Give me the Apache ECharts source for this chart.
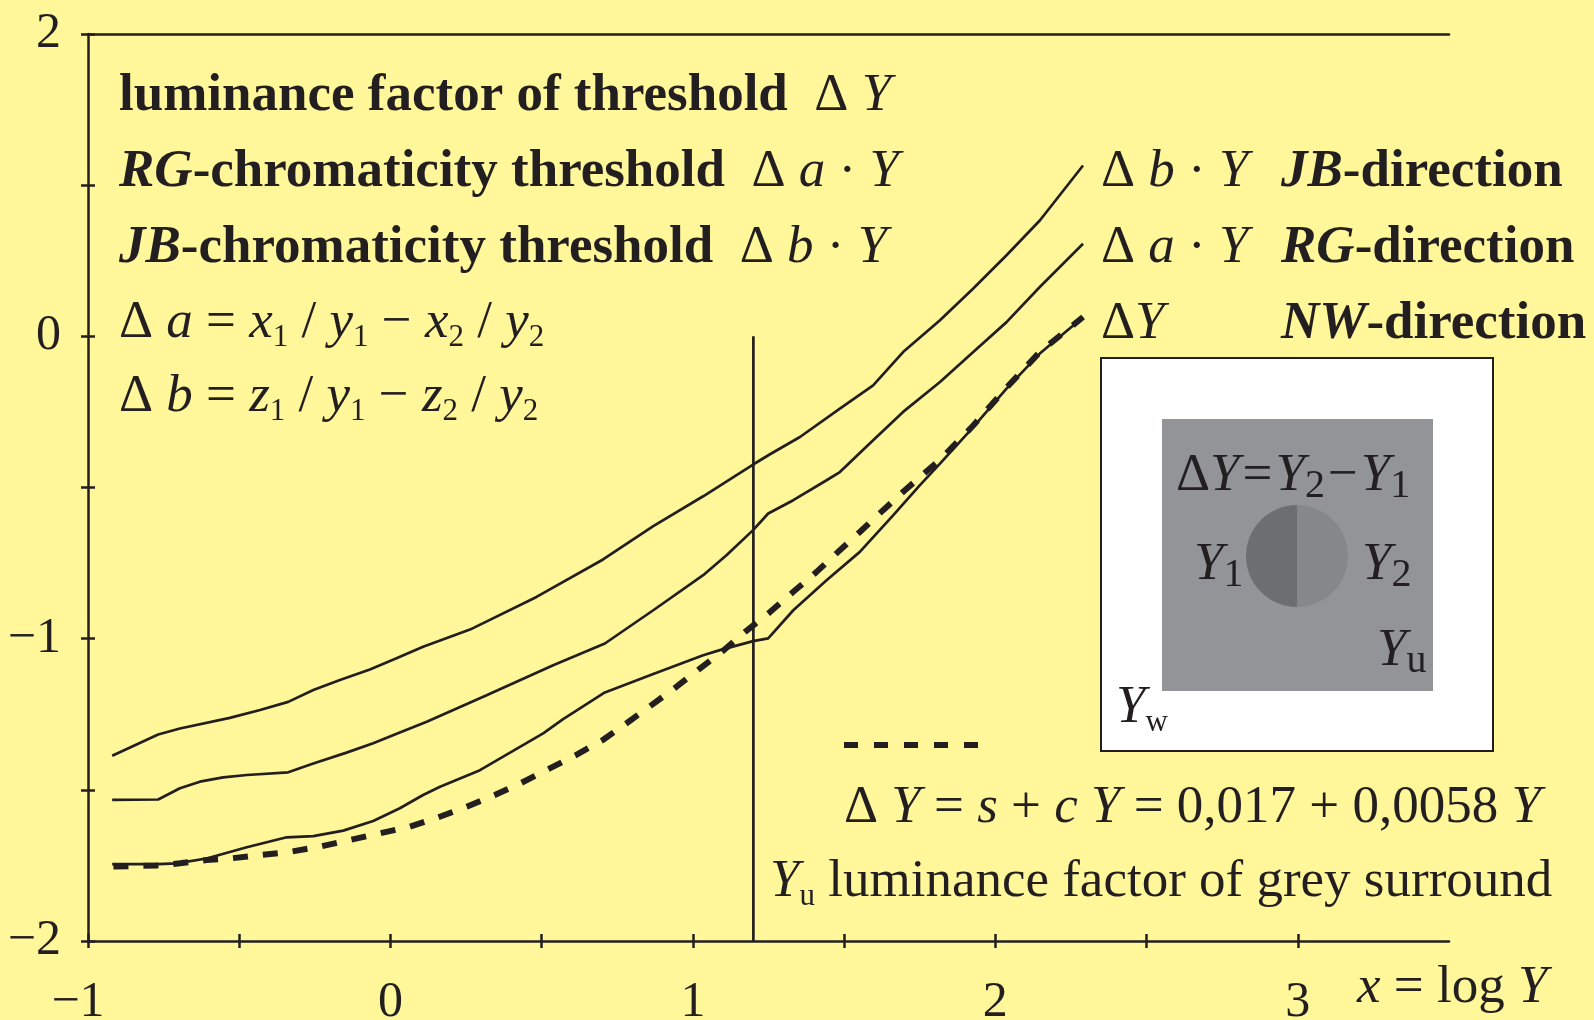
<!DOCTYPE html>
<html>
<head>
<meta charset="utf-8">
<title>Luminance and chromaticity thresholds</title>
<script src="https://cdn.jsdelivr.net/npm/echarts@6/dist/echarts.min.js"></script>
<style>
  html, body { margin: 0; padding: 0; background: #fff799; }
  #chart { width: 1594px; height: 1020px; }
</style>
</head>
<body>
<div id="chart"></div>
<script>
// x = log Y ; y = log of threshold (axis units)
const jbDirection = [
  [-0.92, -1.387], [-0.768, -1.317], [-0.696, -1.297], [-0.531, -1.262], [-0.431, -1.236],
  [-0.338, -1.209], [-0.255, -1.170], [-0.167, -1.137], [-0.068, -1.102], [0.020, -1.065],
  [0.108, -1.027], [0.263, -0.970], [0.483, -0.862], [0.703, -0.738], [0.869, -0.628],
  [1.034, -0.529], [1.199, -0.424], [1.255, -0.390], [1.354, -0.333], [1.486, -0.239],
  [1.596, -0.162], [1.695, -0.052], [1.817, 0.053], [1.927, 0.158], [2.037, 0.268],
  [2.147, 0.383], [2.29, 0.565]
];
const rgDirection = [
  [-0.92, -1.533], [-0.768, -1.532], [-0.696, -1.495], [-0.630, -1.473], [-0.553, -1.459],
  [-0.475, -1.451], [-0.338, -1.442], [-0.255, -1.413], [-0.145, -1.377], [-0.057, -1.346],
  [0.031, -1.310], [0.120, -1.275], [0.318, -1.187], [0.538, -1.088], [0.709, -1.016],
  [0.869, -0.906], [1.034, -0.790], [1.111, -0.724], [1.199, -0.641], [1.249, -0.586],
  [1.332, -0.542], [1.442, -0.476], [1.486, -0.449], [1.596, -0.344], [1.695, -0.250],
  [1.817, -0.151], [1.927, -0.052], [2.037, 0.047], [2.147, 0.163], [2.29, 0.306]
];
const nwDirection = [
  [-0.92, -1.746], [-0.768, -1.746], [-0.707, -1.743], [-0.608, -1.727], [-0.475, -1.690],
  [-0.343, -1.657], [-0.255, -1.653], [-0.156, -1.635], [-0.057, -1.603], [0.031, -1.561],
  [0.108, -1.517], [0.164, -1.490], [0.296, -1.435], [0.505, -1.313], [0.571, -1.266],
  [0.709, -1.178], [0.869, -1.117], [1.034, -1.055], [1.089, -1.038], [1.199, -1.008],
  [1.249, -0.999], [1.332, -0.906], [1.442, -0.807], [1.552, -0.713], [1.662, -0.592],
  [1.750, -0.493], [1.817, -0.421], [1.927, -0.300], [2.037, -0.173], [2.147, -0.057],
  [2.29, 0.063]
];
const linearModel = [
  [-0.916, -1.754], [-0.773, -1.750], [-0.696, -1.743], [-0.608, -1.732], [-0.531, -1.727],
  [-0.431, -1.716], [-0.332, -1.705], [-0.233, -1.688], [-0.134, -1.666], [-0.035, -1.644],
  [0.064, -1.622], [0.158, -1.591], [0.252, -1.556], [0.345, -1.517], [0.433, -1.477],
  [0.525, -1.430], [0.613, -1.385], [0.701, -1.336], [0.783, -1.278], [0.863, -1.220],
  [0.946, -1.159], [1.023, -1.099], [1.100, -1.040], [1.177, -0.974], [1.255, -0.912],
  [1.332, -0.845], [1.409, -0.779], [1.480, -0.713], [1.552, -0.647], [1.629, -0.575],
  [1.701, -0.509], [1.817, -0.408], [1.927, -0.295], [2.037, -0.170], [2.147, -0.052],
  [2.29, 0.064]
];
// surround luminance marker: log Yu
const surroundMarker = [[1.2, 0], [1.2, -2]];

const xTickValues = [-1, -0.5, 0, 0.5, 1, 1.5, 2, 2.5, 3];
const xLabelValues = [-1, 0, 1, 2, 3];
const xTickLabels = ['\u22121', '0', '1', '2', '3'];
const yTickValues = [-2, -1.5, -1, -0.5, 0, 0.5, 1];
const yLabelValues = [-2, -1, 0, 1];
const yTickLabels = ['\u22122', '\u22121', '0', '2'];

const INK = '#231f20';
const BG = '#fff799';
const FONT = '"Liberation Serif", "Times New Roman", serif';
const FS = 53;
const CURVE_W = 2.7;

function labelFor(values, labels) {
  return function (v) {
    for (let i = 0; i < values.length; i++) {
      if (Math.abs(values[i] - v) < 1e-9) return labels[i];
    }
    return '';
  };
}

const rich = {
  r:  { fontFamily: FONT, fontSize: FS, lineHeight: 60, fill: INK },
  i:  { fontFamily: FONT, fontSize: FS, lineHeight: 60, fill: INK, fontStyle: 'italic' },
  b:  { fontFamily: FONT, fontSize: FS, lineHeight: 60, fill: INK, fontWeight: 'bold' },
  bi: { fontFamily: FONT, fontSize: FS, lineHeight: 60, fill: INK, fontWeight: 'bold', fontStyle: 'italic' },
  s:  { fontFamily: FONT, fontSize: 31, lineHeight: 29, fill: INK, verticalAlign: 'bottom' },
  // inset equation: slightly looser operators and larger indices
  op: { fontFamily: FONT, fontSize: FS, lineHeight: 60, fill: INK, padding: [0, 3, 0, 3] },
  S:  { fontFamily: FONT, fontSize: 40, lineHeight: 34, fill: INK, verticalAlign: 'bottom' }
};

// baseline -> top of a 60px rich line
function txt(x, baseline, text) {
  return {
    type: 'text',
    x: x,
    y: baseline - 41.6,
    z: 10,
    style: {
      text: text,
      rich: rich,
      fill: INK,
      fontFamily: FONT,
      fontSize: FS,
      align: 'left',
      verticalAlign: 'top'
    }
  };
}

const axisLineStyle = { color: INK, width: 2.5 };
const tickStyle = { color: INK, width: 2.5 };

function xAxisDef(opts) {
  return Object.assign({
    type: 'value', min: -1, max: 3.5, interval: 0.5,
    splitLine: { show: false },
    axisLine: { show: false, onZero: false, lineStyle: axisLineStyle },
    axisTick: { show: false },
    axisLabel: { show: false }
  }, opts);
}
function yAxisDef(opts) {
  return Object.assign({
    type: 'value', min: -2, max: 1, interval: 0.5,
    splitLine: { show: false },
    axisLine: { show: false, onZero: false, lineStyle: axisLineStyle },
    axisTick: { show: false },
    axisLabel: { show: false }
  }, opts);
}

const chart = echarts.init(document.getElementById('chart'), null, { renderer: 'canvas' });

const option = {
  backgroundColor: BG,
  animation: false,
  grid: { left: 88, right: 145, top: 34, bottom: 79, containLabel: false, outerBoundsMode: 'none' },
  xAxis: [
    xAxisDef({
      position: 'bottom',
      axisLine: { show: true, onZero: false, lineStyle: axisLineStyle },
      axisTick: { show: true, inside: false, length: 7, lineStyle: tickStyle, customValues: xTickValues },
      axisLabel: {
        show: true, customValues: xLabelValues,
        formatter: function (v) {
          const s = labelFor(xLabelValues, xTickLabels)(v);
          return v < 0 ? '{neg|' + s + '}' : s;
        },
        rich: { neg: { fontFamily: FONT, fontSize: 50, color: INK, padding: [0, 20, 0, 0] } },
        fontFamily: FONT, fontSize: 50, color: INK, margin: 37
      }
    }),
    xAxisDef({
      position: 'bottom',
      axisTick: { show: true, inside: true, length: 7, lineStyle: tickStyle, customValues: xTickValues }
    }),
    xAxisDef({
      position: 'top',
      axisLine: { show: true, onZero: false, lineStyle: axisLineStyle }
    })
  ],
  yAxis: [
    yAxisDef({
      position: 'left',
      axisLine: { show: true, onZero: false, lineStyle: axisLineStyle },
      axisTick: { show: true, inside: false, length: 7, lineStyle: tickStyle, customValues: yTickValues },
      axisLabel: {
        show: true, customValues: yLabelValues,
        formatter: labelFor(yLabelValues, yTickLabels),
        fontFamily: FONT, fontSize: 50, color: INK, margin: 27
      }
    }),
    yAxisDef({
      position: 'left',
      axisTick: { show: true, inside: true, length: 7, lineStyle: tickStyle, customValues: yTickValues }
    })
  ],
  series: [
    {
      name: 'JB-direction', type: 'line', data: jbDirection, xAxisIndex: 0, yAxisIndex: 0,
      symbol: 'none', lineStyle: { color: INK, width: CURVE_W }, z: 2
    },
    {
      name: 'RG-direction', type: 'line', data: rgDirection, xAxisIndex: 0, yAxisIndex: 0,
      symbol: 'none', lineStyle: { color: INK, width: CURVE_W }, z: 2
    },
    {
      name: 'NW-direction', type: 'line', data: nwDirection, xAxisIndex: 0, yAxisIndex: 0,
      symbol: 'none', lineStyle: { color: INK, width: CURVE_W }, z: 2
    },
    {
      name: 'linear model', type: 'line', data: linearModel, xAxisIndex: 0, yAxisIndex: 0,
      symbol: 'none', lineStyle: { color: INK, width: 6, type: [15, 15], cap: 'butt' }, z: 3
    },
    {
      name: 'surround', type: 'line', data: surroundMarker, xAxisIndex: 0, yAxisIndex: 0,
      symbol: 'none', lineStyle: { color: INK, width: CURVE_W }, z: 2
    }
  ],
  graphic: {
    elements: [
      // left description block
      txt(119, 108, '{b|luminance factor of threshold}{r|  \u0394 }{i|Y}'),
      txt(119, 184, '{bi|RG}{b|-chromaticity threshold}{r|  \u0394 }{i|a}{r| \u00b7 }{i|Y}'),
      txt(119, 260, '{bi|JB}{b|-chromaticity threshold}{r|  \u0394 }{i|b}{r| \u00b7 }{i|Y}'),
      txt(119, 335, '{r|\u0394 }{i|a}{r| = }{i|x}{s|1}{r| / }{i|y}{s|1}{r| \u2212 }{i|x}{s|2}{r| / }{i|y}{s|2}'),
      txt(119, 409, '{r|\u0394 }{i|b}{r| = }{i|z}{s|1}{r| / }{i|y}{s|1}{r| \u2212 }{i|z}{s|2}{r| / }{i|y}{s|2}'),

      // curve labels on the right
      txt(1101, 184, '{r|\u0394 }{i|b}{r| \u00b7 }{i|Y}'),
      txt(1281, 184, '{bi|JB}{b|-direction}'),
      txt(1101, 260, '{r|\u0394 }{i|a}{r| \u00b7 }{i|Y}'),
      txt(1281, 260, '{bi|RG}{b|-direction}'),
      txt(1101, 336, '{r|\u0394}{i|Y}'),
      txt(1281, 336, '{bi|NW}{b|-direction}'),

      // viewing field sketch
      {
        type: 'rect', z: 5,
        shape: { x: 1101, y: 358, width: 392, height: 393 },
        style: { fill: '#ffffff', stroke: INK, lineWidth: 2 }
      },
      {
        type: 'rect', z: 6,
        shape: { x: 1162, y: 419, width: 271, height: 272 },
        style: { fill: '#939498' }
      },
      {
        type: 'sector', z: 7,
        shape: { cx: 1297, cy: 556, r: 51, r0: 0, startAngle: Math.PI / 2, endAngle: Math.PI * 1.5, clockwise: true },
        style: { fill: '#6d6e72' }
      },
      {
        type: 'sector', z: 7,
        shape: { cx: 1297, cy: 556, r: 51, r0: 0, startAngle: -Math.PI / 2, endAngle: Math.PI / 2, clockwise: true },
        style: { fill: '#86878b' }
      },
      txt(1176, 488, '{r|\u0394}{i|Y}{op|=}{i|Y}{S|2}{op|\u2212}{i|Y}{S|1}'),
      txt(1194, 577, '{i|Y}{S|1}'),
      txt(1362, 577, '{i|Y}{S|2}'),
      txt(1377, 663, '{i|Y}{S|u}'),
      txt(1116, 720, '{i|Y}{s|w}'),

      // dashed sample and model equation
      {
        type: 'line', z: 10,
        shape: { x1: 844, y1: 745, x2: 981, y2: 745 },
        style: { stroke: INK, lineWidth: 6, lineDash: [14, 16], lineCap: 'butt' }
      },
      txt(844, 820, '{r|\u0394 }{i|Y}{r| = }{i|s}{r| + }{i|c}{r| }{i|Y}{r| = 0,017 + 0,0058 }{i|Y}'),
      txt(770, 894, '{i|Y}{s|u}{r| luminance factor of grey surround}'),

      // axis title
      txt(1357, 1000, '{i|x}{r| = log }{i|Y}')
    ]
  }
};

chart.setOption(option);
</script>
</body>
</html>
